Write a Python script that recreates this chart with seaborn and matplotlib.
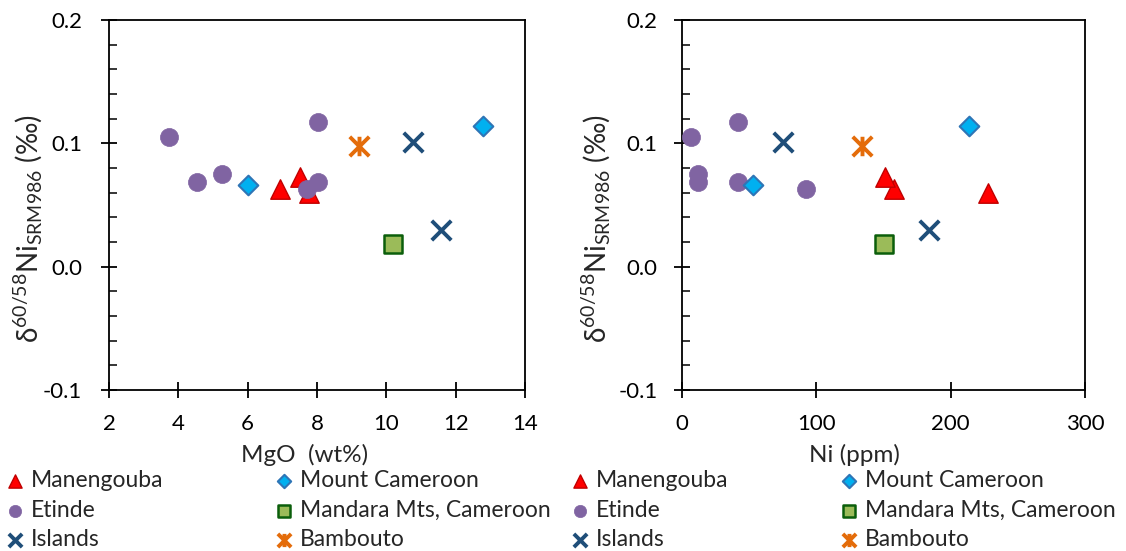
import numpy as np
import pandas as pd
import matplotlib
matplotlib.use("Agg")
import matplotlib.pyplot as plt
import seaborn as sns
from matplotlib.path import Path
from matplotlib.ticker import MultipleLocator, FormatStrFormatter

sns.set_style("ticks")
plt.rcParams['font.family'] = ['Lato', 'DejaVu Sans']
plt.rcParams['mathtext.fontset'] = 'custom'
plt.rcParams['mathtext.rm'] = 'Lato'
plt.rcParams['mathtext.it'] = 'Lato:italic'
plt.rcParams['axes.unicode_minus'] = False

# ---- data ----
manengouba_mgo = [6.94, 7.52, 7.77]
manengouba_ni = [158, 151, 228]
manengouba_d = [0.063, 0.073, 0.060]

etinde_mgo = [3.73, 4.55, 5.26, 8.03, 8.03, 7.70]
etinde_ni = [7, 12, 12, 42, 42, 92]
etinde_d = [0.105, 0.069, 0.075, 0.117, 0.069, 0.063]

islands_mgo = [10.78, 11.57]
islands_ni = [75, 184]
islands_d = [0.101, 0.030]

mtcam_mgo = [6.01, 12.80]
mtcam_ni = [53, 214]
mtcam_d = [0.066, 0.114]

mandara_mgo = [10.18]
mandara_ni = [150]
mandara_d = [0.018]

bambouto_mgo = [9.20]
bambouto_ni = [134]
bambouto_d = [0.098]

names = ["Manengouba", "Etinde", "Islands", "Mount Cameroon",
         "Mandara Mts, Cameroon", "Bambouto"]
mgo = [manengouba_mgo, etinde_mgo, islands_mgo, mtcam_mgo, mandara_mgo, bambouto_mgo]
ni = [manengouba_ni, etinde_ni, islands_ni, mtcam_ni, mandara_ni, bambouto_ni]
dni = [manengouba_d, etinde_d, islands_d, mtcam_d, mandara_d, bambouto_d]

xticks_left = [2, 4, 6, 8, 10, 12, 14]
xticks_right = [0, 100, 200, 300]
yticks = [-0.1, 0.0, 0.1, 0.2]

# ---- styles ----
star = Path([(-1, -1), (1, 1), (-1, 1), (1, -1), (0, -1), (0, 1)],
            [Path.MOVETO, Path.LINETO, Path.MOVETO, Path.LINETO, Path.MOVETO, Path.LINETO])
styles = {
    "Manengouba": dict(marker="^", s=14**2, color="#FF0000", edgecolor="#C00000", linewidth=1.0),
    "Etinde": dict(marker="o", s=13**2, color="#8064A2", edgecolor="#8064A2", linewidth=0.5),
    "Islands": dict(marker="x", s=14**2, color="#1F4E79", linewidth=2.8),
    "Mount Cameroon": dict(marker="D", s=10**2, color="#00B0F0", edgecolor="#2E75B6", linewidth=1.5),
    "Mandara Mts, Cameroon": dict(marker="s", s=13**2, color="#9BBB59", edgecolor="#0B5E0B", linewidth=1.8),
    "Bambouto": dict(marker=star, s=14**2, color="#E46C0A", edgecolor="#E46C0A", linewidth=2.8),
}
zorders = {"Manengouba": 3, "Etinde": 4, "Islands": 5, "Mount Cameroon": 6,
           "Mandara Mts, Cameroon": 5, "Bambouto": 5}

W, H = 1126, 551
fig = plt.figure(figsize=(W / 100, H / 100), dpi=100)
axL = fig.add_axes([109 / W, 1 - 390 / H, 416 / W, 370 / H])
axR = fig.add_axes([682 / W, 1 - 390 / H, 403 / W, 370 / H])

ylabel = r'δ$^{60/58}$Ni$_{\mathregular{SRM986}}$ (‰)'

for ax, xs, xlim, xt, xlabel, ypad, ylc, xlc in [
        (axL, mgo, (2, 14), xticks_left, "MgO  (wt%)", 14, (-0.155, 0.435), (0.469, -0.145)),
        (axR, ni, (0, 300), xticks_right, "Ni (ppm)", 12, (-0.17, 0.435), (0.427, -0.145))]:
    for name, x, y in zip(names, xs, dni):
        df = pd.DataFrame({"x": x, "y": y})
        st = dict(styles[name])
        sns.scatterplot(data=df, x="x", y="y", ax=ax, label=name, zorder=zorders[name],
                        legend=False, **st)
    ax.set_xlim(*xlim)
    ax.set_ylim(-0.1, 0.2)
    ax.set_xticks(xt)
    ax.set_yticks(yticks)
    ax.yaxis.set_minor_locator(MultipleLocator(0.02))
    ax.yaxis.set_major_formatter(FormatStrFormatter('%.1f'))
    for sp in ax.spines.values():
        sp.set_visible(True)
        sp.set_linewidth(1.3)
        sp.set_color("black")
    ax.tick_params(axis='both', which='major', direction='inout', length=11, width=1.3,
                   labelsize=16, colors='black')
    ax.tick_params(axis='y', which='major', pad=ypad)
    ax.tick_params(axis='x', which='major', pad=12)
    ax.tick_params(axis='y', which='minor', direction='in', length=5.5, width=1.3)
    ax.set_xlabel(xlabel, fontsize=17.5)
    ax.set_ylabel(ylabel, fontsize=20)
    ax.yaxis.set_label_coords(*ylc)
    ax.xaxis.set_label_coords(*xlc)

# legends
for ax, x0 in [(axL, 7 / W), (axR, 572 / W)]:
    h, l = ax.get_legend_handles_labels()
    fig.legend(h, l, loc='upper left', bbox_to_anchor=(x0, 1 - 470 / H), ncol=2,
               frameon=False, fontsize=16.5, markerscale=0.68, handlelength=0.7,
               handletextpad=0.35, columnspacing=4.9, labelspacing=0.38,
               borderpad=0, borderaxespad=0)

fig.savefig("out.png", dpi=100)
